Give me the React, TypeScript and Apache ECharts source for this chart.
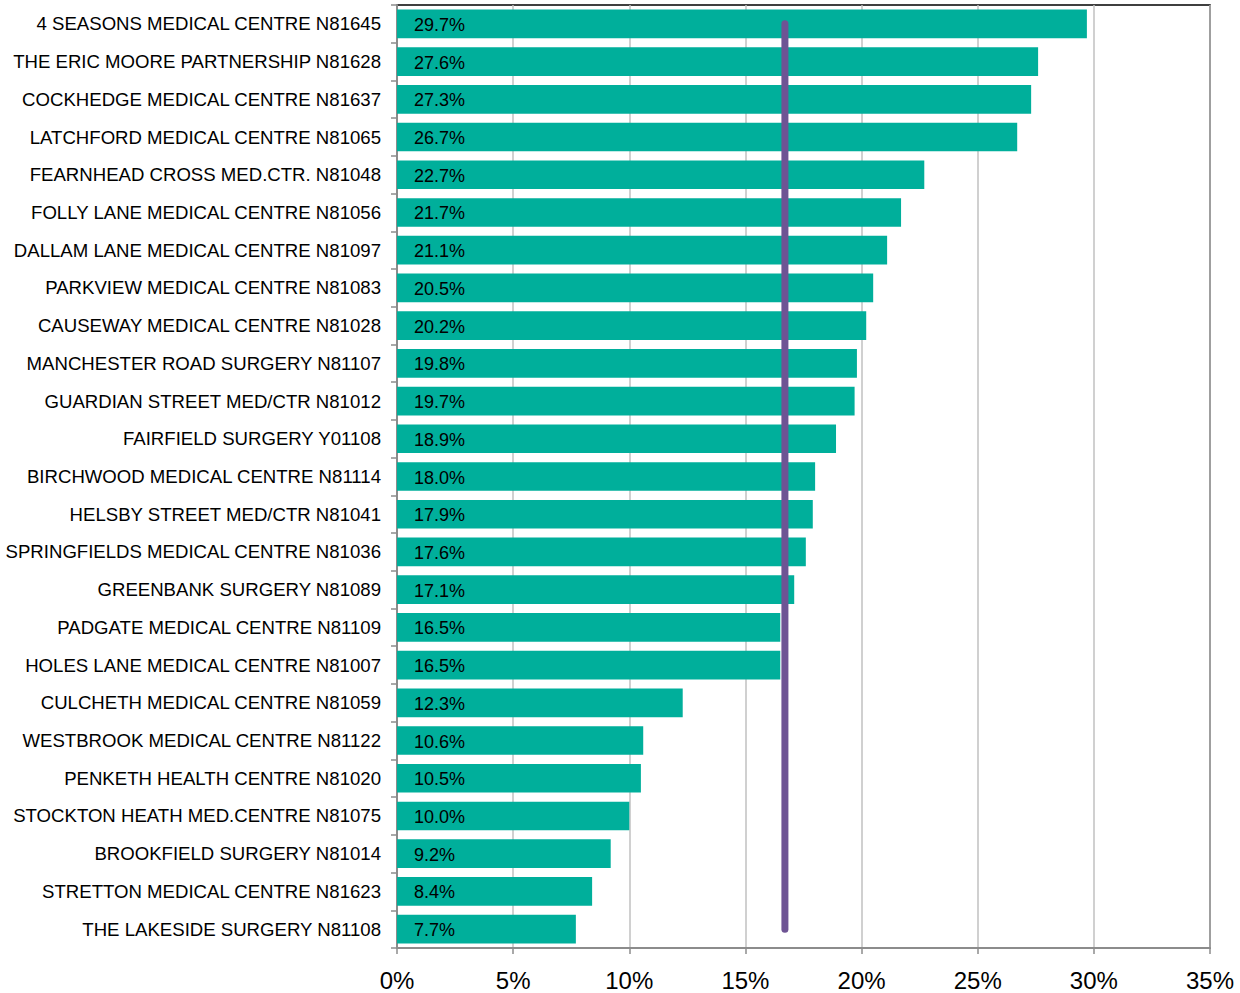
import React, { useEffect, useRef } from "react";
import * as echarts from "echarts";

const categories = [
  "4 SEASONS MEDICAL CENTRE N81645",
  "THE ERIC MOORE PARTNERSHIP N81628",
  "COCKHEDGE MEDICAL CENTRE N81637",
  "LATCHFORD MEDICAL CENTRE N81065",
  "FEARNHEAD CROSS MED.CTR. N81048",
  "FOLLY LANE MEDICAL CENTRE N81056",
  "DALLAM LANE MEDICAL CENTRE N81097",
  "PARKVIEW MEDICAL CENTRE N81083",
  "CAUSEWAY MEDICAL CENTRE N81028",
  "MANCHESTER ROAD SURGERY N81107",
  "GUARDIAN STREET MED/CTR N81012",
  "FAIRFIELD SURGERY Y01108",
  "BIRCHWOOD MEDICAL CENTRE N81114",
  "HELSBY STREET MED/CTR N81041",
  "SPRINGFIELDS MEDICAL CENTRE N81036",
  "GREENBANK SURGERY N81089",
  "PADGATE MEDICAL CENTRE N81109",
  "HOLES LANE MEDICAL CENTRE N81007",
  "CULCHETH MEDICAL CENTRE N81059",
  "WESTBROOK MEDICAL CENTRE N81122",
  "PENKETH HEALTH CENTRE N81020",
  "STOCKTON HEATH MED.CENTRE N81075",
  "BROOKFIELD SURGERY N81014",
  "STRETTON MEDICAL CENTRE N81623",
  "THE LAKESIDE SURGERY N81108",
];

const values = [
  29.7, 27.6, 27.3, 26.7, 22.7, 21.7, 21.1, 20.5, 20.2, 19.8, 19.7, 18.9, 18.0,
  17.9, 17.6, 17.1, 16.5, 16.5, 12.3, 10.6, 10.5, 10.0, 9.2, 8.4, 7.7,
];

const average = 16.7;

const xMin = 0;
const xMax = 35;
const xInterval = 5;

export default function App() {
  const ref = useRef<HTMLDivElement>(null);

  useEffect(() => {
    if (!ref.current) return;
    const chart = echarts.init(ref.current, undefined, { renderer: "svg" });
    const font = "Liberation Sans, Arial, sans-serif";
    chart.setOption({
      animation: false,
      backgroundColor: "#ffffff",
      grid: {
        left: 397,
        right: 30,
        top: 5,
        bottom: 45,
        containLabel: false,
        show: true,
        borderColor: "#000000",
        borderWidth: 1.5,
        backgroundColor: "transparent",
      },
      xAxis: {
        type: "value",
        min: xMin,
        max: xMax,
        interval: xInterval,
        axisLine: { show: true, lineStyle: { color: "#8c8c8c", width: 2 } },
        axisTick: { show: true, length: 6, lineStyle: { color: "#8c8c8c", width: 1.5 } },
        splitLine: { show: true, lineStyle: { color: "#c0c0c0", width: 1.5 } },
        axisLabel: {
          formatter: "{value}%",
          fontFamily: font,
          fontSize: 24,
          color: "#000000",
          margin: 20,
        },
      },
      yAxis: {
        type: "category",
        inverse: true,
        data: categories,
        axisLine: { show: true, lineStyle: { color: "#8c8c8c", width: 2 } },
        axisTick: { show: true, length: 6, lineStyle: { color: "#8c8c8c", width: 1.5 } },
        splitLine: { show: false },
        axisLabel: {
          fontFamily: font,
          fontSize: 18.6,
          color: "#000000",
          margin: 16,
        },
      },
      series: [
        {
          type: "bar",
          data: values,
          barCategoryGap: "24%",
          itemStyle: { color: "#00AF9B" },
          label: {
            show: true,
            position: "insideLeft",
            distance: 17,
            offset: [0, 1],
            formatter: (p: any) => p.value.toFixed(1) + "%",
            fontFamily: font,
            fontSize: 18,
            color: "#000000",
          },
          z: 2,
        },
        {
          type: "line",
          data: [
            [average, categories[0]],
            [average, categories[categories.length - 1]],
          ],
          symbol: "none",
          lineStyle: { color: "#6E5494", width: 7, cap: "round" },
          z: 5,
        },
      ],
    });
    return () => chart.dispose();
  }, []);

  return <div ref={ref} style={{ width: 1240, height: 993, position: "absolute", left: 0, top: 0 }} />;
}
